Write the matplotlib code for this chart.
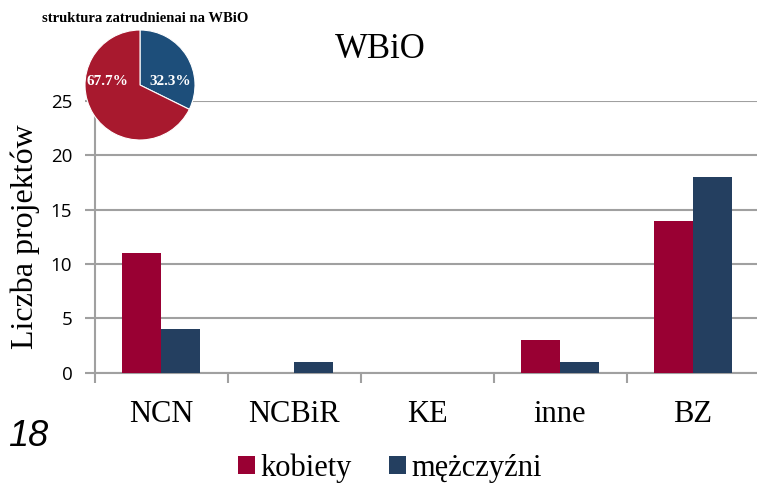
import matplotlib
matplotlib.use("Agg")
import matplotlib.pyplot as plt
import numpy as np

categories = ["NCN", "NCBiR", "KE", "inne", "BZ"]
kobiety = [11, 0, 0, 3, 14]
mezczyzni = [4, 1, 0, 1, 18]
yticks = [0, 5, 10, 15, 20, 25]
pie_labels = ["mężczyźni", "kobiety"]
pie_values = [32.3, 67.7]

W, H = 757, 484
fig = plt.figure(figsize=(W / 100, H / 100), dpi=100)

red = "#990033"
blue = "#243F60"
grid_c = "#A0A0A0"
serif = "Liberation Serif"

# main bar axes
ax = fig.add_axes([94.5 / W, 1 - 372.7 / H, (759.5 - 94.5) / W, (372.7 - 101.2) / H])
x = np.arange(len(categories))
bw = 0.29
ax.bar(x - bw / 2, kobiety, bw, color=red, label="kobiety", zorder=3)
ax.bar(x + bw / 2, mezczyzni, bw, color=blue, label="mężczyźni", zorder=3)
ax.set_xlim(-0.5, len(categories) - 0.5)
ax.set_ylim(0, 25)
ax.set_yticks(yticks)
ax.set_yticklabels([str(v) for v in yticks], fontfamily="Open Sans", fontsize=13.5)
ax.yaxis.grid(True, color=grid_c, linewidth=1.5, zorder=0)
ax.set_axisbelow(True)
for s in ["top", "right"]:
    ax.spines[s].set_visible(False)
ax.spines["left"].set_color(grid_c)
ax.spines["bottom"].set_color(grid_c)
ax.spines["left"].set_linewidth(1.5)
ax.spines["bottom"].set_linewidth(1.5)
ax.tick_params(axis="y", length=7, width=1.5, color=grid_c, pad=9)
ax.set_xticks(np.arange(len(categories) + 1) - 0.5, minor=False)
ax.set_xticklabels([])
ax.set_xticks(x, minor=True)
ax.set_xticklabels(categories, minor=True, fontfamily=serif, fontsize=22)
ax.tick_params(axis="x", which="major", length=7, width=1.5, color=grid_c)
ax.tick_params(axis="x", which="minor", length=0, pad=20)
ax.set_ylabel("Liczba projektów", fontfamily=serif, fontsize=23, labelpad=8)

fig.text(380 / W, 1 - 50 / H, "WBiO", fontfamily=serif, fontsize=25,
         ha="center", va="center")

fig.text(8 / W, 1 - 437 / H, "18", fontfamily="Liberation Sans",
         style="italic", fontsize=26, ha="left", va="center")

leg = fig.legend(loc="center", bbox_to_anchor=(390 / W, 1 - 468 / H), ncol=2,
                 frameon=False, prop={"family": serif, "size": 22},
                 handlelength=0.55, handleheight=0.55, handletextpad=0.2,
                 columnspacing=1.2)

# pie inset
r = 55
cx, cy = 140, 85
pax = fig.add_axes([(cx - r) / W, 1 - (cy + r) / H, 2 * r / W, 2 * r / H])
pax.pie(pie_values, colors=["#1D4E7A", "#A8192E"], startangle=90,
        counterclock=False, wedgeprops={"edgecolor": "white", "linewidth": 0.8})
pax.set_xlim(-1.0, 1.0)
pax.set_ylim(-1.0, 1.0)
pax.set_aspect("equal")
pax.text(0.55, 0.06, f"{pie_values[0]}%", color="white", fontfamily=serif,
         fontweight="bold", fontsize=11, ha="center", va="center")
pax.text(-0.6, 0.06, f"{pie_values[1]}%", color="white", fontfamily=serif,
         fontweight="bold", fontsize=11, ha="center", va="center")
fig.text(145 / W, 1 - 18 / H, "struktura zatrudnienai na WBiO", fontfamily=serif,
         fontweight="bold", fontsize=10.5, ha="center", va="center")

fig.savefig("out.png", dpi=100)
